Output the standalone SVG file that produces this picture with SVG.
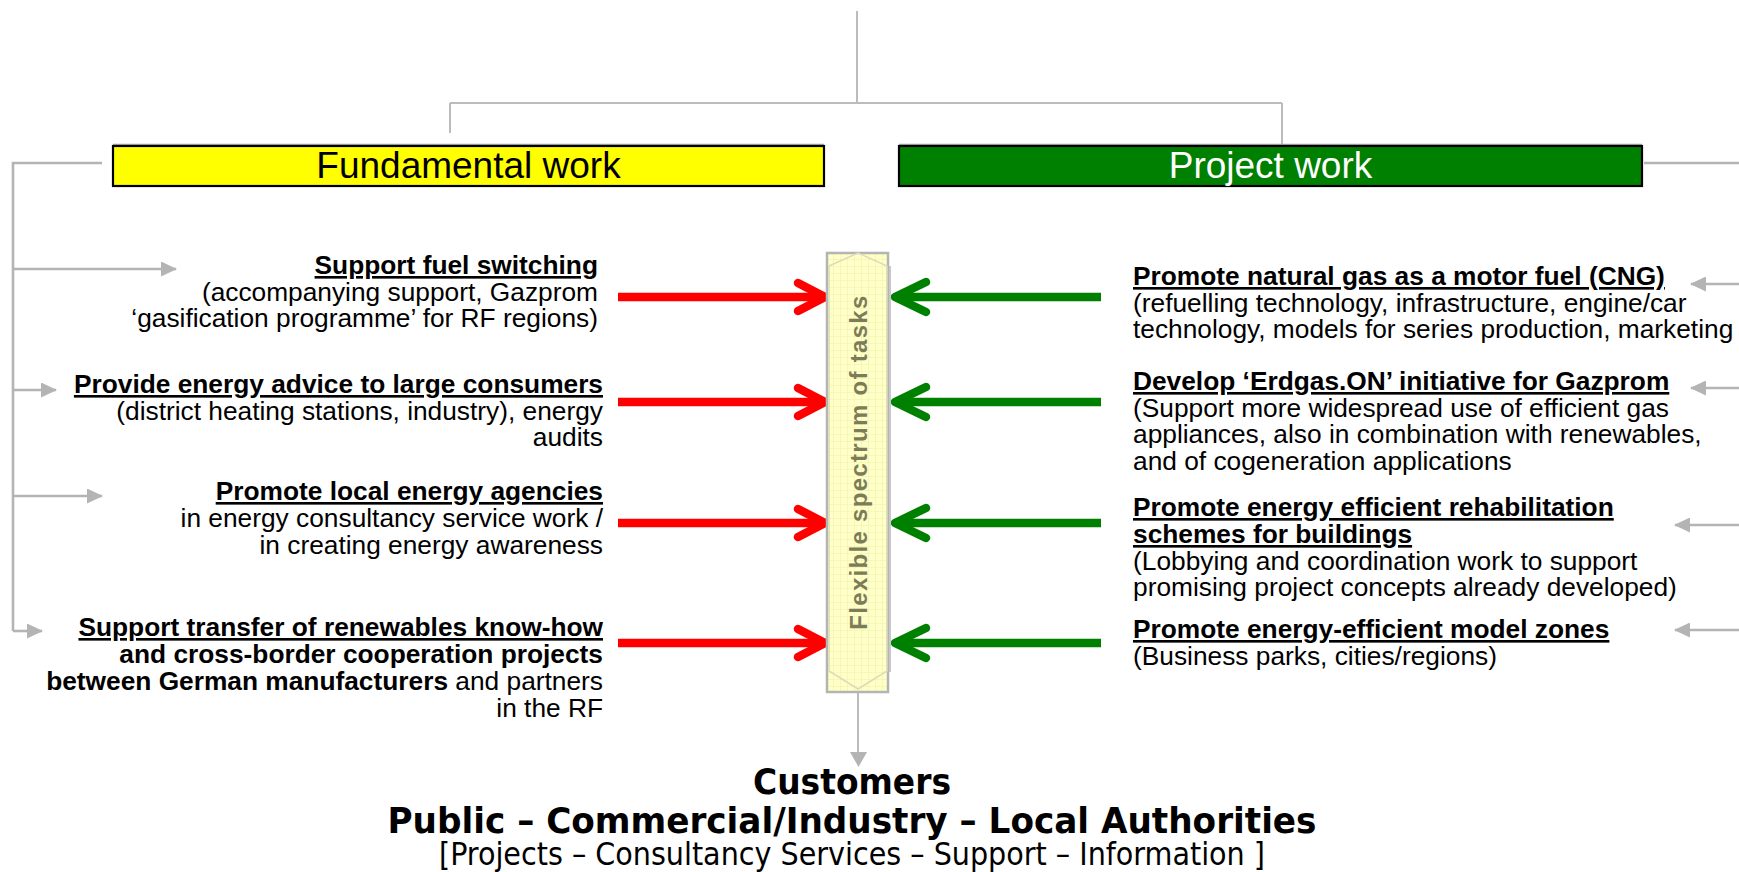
<svg xmlns="http://www.w3.org/2000/svg" width="1739" height="872" viewBox="0 0 1739 872">
<defs>
<style>
.t{font-family:"Liberation Sans",Arial,sans-serif;font-size:26.3px;fill:#000}
.b{font-weight:bold}
.u{text-decoration:underline;text-decoration-thickness:2.4px}
.e{text-anchor:end}
.hd{font-family:"Liberation Sans",Arial,sans-serif;font-size:37px;text-anchor:middle}
.cu{font-family:"DejaVu Sans Condensed","DejaVu Sans",sans-serif;text-anchor:middle;fill:#000}
.g{stroke:#b4b4b4;stroke-width:2.6;fill:none}
.gt{stroke:#bcbcbc;stroke-width:2;fill:none}
.ga{stroke:#b4b4b4;stroke-width:2.6;fill:none;marker-end:url(#tri)}
.red{stroke:#ff0000;stroke-width:8.5;fill:none;stroke-linejoin:round}
.grn{stroke:#008000;stroke-width:8.5;fill:none;stroke-linejoin:round}
.hr{stroke-linecap:round}
</style>
<marker id="tri" markerUnits="userSpaceOnUse" viewBox="0 0 16 15" markerWidth="16" markerHeight="15" refX="15" refY="7.5" orient="auto">
<path d="M0,0 L16,7.5 L0,15 z" fill="#b4b4b4"/>
</marker>
<pattern id="grid" patternUnits="userSpaceOnUse" width="7" height="7">
<rect width="7" height="7" fill="#ffffc8"/>
<path d="M0,0.3 H7 M0.3,0 V7" stroke="#f1f1a8" stroke-width="0.7"/>
</pattern>
</defs>
<rect width="1739" height="872" fill="#ffffff"/>

<g id="connectors">
<path class="gt" d="M857,11 V103 M450,103 H1282 M450,103 V133 M1282,103 V147"/>
<path class="g" d="M102,163 H13 V631"/>
<path class="ga" d="M13,269 H176"/>
<path class="ga" d="M13,390 H56"/>
<path class="ga" d="M13,496 H102"/>
<path class="ga" d="M13,631 H42"/>
<path class="g" d="M1644,163 H1739"/>
<path class="ga" d="M1739,284 H1691"/>
<path class="ga" d="M1739,388 H1691"/>
<path class="ga" d="M1739,525 H1675"/>
<path class="ga" d="M1739,630 H1675"/>
<path class="gt" d="M858,692 V754"/>
<path d="M850,752 L867,752 L858.5,767 z" fill="#b4b4b4"/>
<path class="red" d="M618,297 H822"/><path class="red hr" d="M798,283 L825,297 L798,311"/>
<path class="red" d="M618,402 H822"/><path class="red hr" d="M798,388 L825,402 L798,416"/>
<path class="red" d="M618,523 H822"/><path class="red hr" d="M798,509 L825,523 L798,537"/>
<path class="red" d="M618,643 H822"/><path class="red hr" d="M798,629 L825,643 L798,657"/>
<path class="grn" d="M1101,297 H897"/><path class="grn hr" d="M926,282 L895,297 L926,312"/>
<path class="grn" d="M1101,402 H897"/><path class="grn hr" d="M926,387 L895,402 L926,417"/>
<path class="grn" d="M1101,523 H897"/><path class="grn hr" d="M926,508 L895,523 L926,538"/>
<path class="grn" d="M1101,643 H897"/><path class="grn hr" d="M926,628 L895,643 L926,658"/>
</g>

<g id="fundamental-work">
<line x1="113" y1="144.5" x2="824" y2="144.5" stroke="#a8a8a8" stroke-width="1.5"/>
<rect x="113" y="146" width="711" height="40" fill="#ffff00" stroke="#000" stroke-width="2.2"/>
<text class="hd" x="468.5" y="178" fill="#000">Fundamental work</text>
</g>

<g id="project-work">
<line x1="899" y1="144.5" x2="1642" y2="144.5" stroke="#a8a8a8" stroke-width="1.5"/>
<rect x="899" y="146" width="743" height="40" fill="#008000" stroke="#000" stroke-width="2.2"/>
<text class="hd" x="1270.5" y="178" fill="#ffffff">Project work</text>
</g>

<g id="flexible-spectrum">
<rect x="827" y="253" width="61" height="439" fill="url(#grid)" stroke="#b4b4b4" stroke-width="2.5"/>
<path d="M829,266 L858,253 L887,266 V671 L858,689 L829,671 z" fill="none" stroke="#dcdcb8" stroke-width="1.5"/>
<line x1="890" y1="266" x2="890" y2="672" stroke="#c8c8c8" stroke-width="2"/>
<text transform="translate(867,462) rotate(-90)" x="0" y="0" text-anchor="middle" font-family="Liberation Sans,Arial,sans-serif" font-weight="bold" font-size="24" letter-spacing="1.3" fill="#7c7c58">Flexible spectrum of tasks</text>
</g>

<g id="fuel-switching">
<text class="t e"><tspan x="598" y="274" class="b u">Support fuel switching</tspan><tspan x="598" y="301">(accompanying support, Gazprom</tspan><tspan x="598" y="327">‘gasification programme’ for RF regions)</tspan></text>
</g>

<g id="energy-advice">
<text class="t e"><tspan x="603" y="393" class="b u">Provide energy advice to large consumers</tspan><tspan x="603" y="420">(district heating stations, industry), energy</tspan><tspan x="603" y="446">audits</tspan></text>
</g>

<g id="local-agencies">
<text class="t e"><tspan x="603" y="500" class="b u">Promote local energy agencies</tspan><tspan x="603" y="527">in energy consultancy service work /</tspan><tspan x="603" y="554">in creating energy awareness</tspan></text>
</g>

<g id="renewables-transfer">
<text class="t e"><tspan x="603" y="636" class="b u">Support transfer of renewables know-how</tspan><tspan x="603" y="663" class="b">and cross-border cooperation projects</tspan><tspan x="603" y="690"><tspan class="b">between German manufacturers</tspan> and partners</tspan><tspan x="603" y="717">in the RF</tspan></text>
</g>

<g id="cng">
<text class="t"><tspan x="1133" y="285" class="b u">Promote natural gas as a motor fuel (CNG)</tspan><tspan x="1133" y="312">(refuelling technology, infrastructure, engine/car</tspan><tspan x="1133" y="338">technology, models for series production, marketing</tspan></text>
</g>

<g id="erdgas-on">
<text class="t"><tspan x="1133" y="390" class="b u">Develop ‘Erdgas.ON’ initiative for Gazprom</tspan><tspan x="1133" y="417">(Support more widespread use of efficient gas</tspan><tspan x="1133" y="443">appliances, also in combination with renewables,</tspan><tspan x="1133" y="470">and of cogeneration applications</tspan></text>
</g>

<g id="rehabilitation">
<text class="t"><tspan x="1133" y="516" class="b u">Promote energy efficient rehabilitation</tspan><tspan x="1133" y="543" class="b u">schemes for buildings</tspan><tspan x="1133" y="570">(Lobbying and coordination work to support</tspan><tspan x="1133" y="596">promising project concepts already developed)</tspan></text>
</g>

<g id="model-zones">
<text class="t"><tspan x="1133" y="638" class="b u">Promote energy-efficient model zones</tspan><tspan x="1133" y="665">(Business parks, cities/regions)</tspan></text>
</g>

<g id="customers">
<text class="cu" x="852" y="794" font-size="35" font-weight="bold" textLength="198" lengthAdjust="spacingAndGlyphs">Customers</text>
<text class="cu" x="852" y="833" font-size="35" font-weight="bold" textLength="929" lengthAdjust="spacingAndGlyphs">Public – Commercial/Industry – Local Authorities</text>
<text class="cu" x="852" y="865" font-size="32.5" textLength="826" lengthAdjust="spacingAndGlyphs">[Projects – Consultancy Services – Support – Information ]</text>
</g>
</svg>
